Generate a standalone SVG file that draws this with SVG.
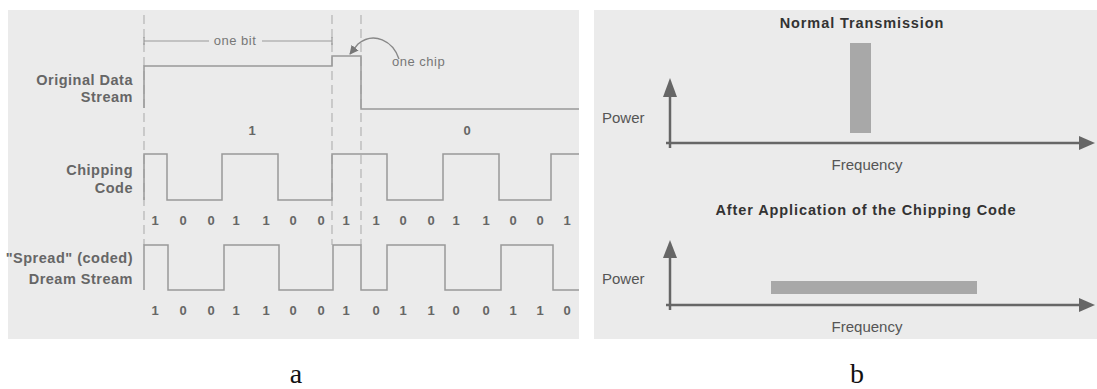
<svg xmlns="http://www.w3.org/2000/svg" width="1097" height="389" viewBox="0 0 1097 389">
  <style>
    .panel { fill: #ebebeb; }
    .wave { fill: none; stroke: #999; stroke-width: 1.5; }
    .guide { fill: none; stroke: #b4b4b4; stroke-width: 1.2; stroke-dasharray: 9 5; }
    .thin { fill: none; stroke: #999; stroke-width: 1.2; }
    .curve { fill: none; stroke: #888; stroke-width: 1.4; }
    .lbl { font-family: "Liberation Sans", Arial, sans-serif; font-weight: bold; font-size: 14.5px; fill: #666; letter-spacing: 0.5px; }
    .num { font-family: "Liberation Sans", Arial, sans-serif; font-weight: bold; font-size: 13px; fill: #666; text-anchor: middle; }
    .note { font-family: "Liberation Sans", Arial, sans-serif; font-size: 13px; fill: #777; letter-spacing: 0.5px; }
    .axis { fill: none; stroke: #666; stroke-width: 2.5; }
    .head { fill: #666; }
    .title { font-family: "Liberation Sans", Arial, sans-serif; font-weight: bold; font-size: 14.5px; fill: #333; text-anchor: middle; letter-spacing: 0.9px; }
    .axlbl { font-family: "Liberation Sans", Arial, sans-serif; font-size: 15px; fill: #555; }
    .bar { fill: #a8a8a8; }
    .cap { font-family: "Liberation Serif", "Times New Roman", serif; font-size: 28px; fill: #111; text-anchor: middle; }
  </style>
  <defs>
    <marker id="chipHead" viewBox="0 0 10 10" refX="9" refY="5" markerWidth="9" markerHeight="9" orient="auto" markerUnits="userSpaceOnUse">
      <path d="M0,0 L10,5 L0,10 z" fill="#777"/>
    </marker>
  </defs>

  <rect width="1097" height="389" fill="#fff"/>

  <!-- Panel a: direct-sequence spreading waveforms -->
  <g id="panel-a">
    <rect class="panel" x="8" y="10" width="571" height="329"/>

    <g id="guides">
      <line class="guide" x1="144" y1="15" x2="144" y2="245"/>
      <line class="guide" x1="332" y1="15" x2="332" y2="245"/>
      <line class="guide" x1="361" y1="15" x2="361" y2="245"/>
    </g>

    <g id="bit-span">
      <line class="thin" x1="144" y1="41" x2="209" y2="41"/>
      <line class="thin" x1="262" y1="41" x2="332" y2="41"/>
      <line class="thin" x1="144" y1="37" x2="144" y2="45"/>
      <line class="thin" x1="332" y1="37" x2="332" y2="45"/>
      <text class="note" x="235" y="45" text-anchor="middle">one bit</text>
    </g>

    <g id="chip-callout">
      <path class="curve" d="M399,59 C393,41 374,31 358,44 L350,54" marker-end="url(#chipHead)"/>
      <text class="note" x="392" y="66">one chip</text>
    </g>

    <g id="data-stream">
      <text class="lbl" x="133" y="85" text-anchor="end">Original Data</text>
      <text class="lbl" x="133" y="102" text-anchor="end">Stream</text>
      <path class="wave" d="M144,108 V66 H332 V56 H361 V109 H579"/>
      <text class="num" x="252" y="135">1</text>
      <text class="num" x="467" y="135">0</text>
    </g>

    <g id="chipping-code">
      <text class="lbl" x="133" y="175" text-anchor="end">Chipping</text>
      <text class="lbl" x="133" y="193" text-anchor="end">Code</text>
      <path class="wave" d="M144,200 V154 H167 V200 H222 V154 H278 V200 H332 V154 H387 V200 H443 V154 H499 V200 H551 V154 H579"/>
      <text class="num" y="225">
        <tspan x="155">1</tspan><tspan x="183">0</tspan><tspan x="211">0</tspan><tspan x="238">1</tspan>
        <tspan x="266">1</tspan><tspan x="293">0</tspan><tspan x="321">0</tspan><tspan x="348">1</tspan>
        <tspan x="376">1</tspan><tspan x="403">0</tspan><tspan x="431">0</tspan><tspan x="458">1</tspan>
        <tspan x="486">1</tspan><tspan x="513">0</tspan><tspan x="540">0</tspan><tspan x="567">1</tspan>
      </text>
    </g>

    <g id="spread-stream">
      <text class="lbl" x="133" y="263" text-anchor="end">"Spread" (coded)</text>
      <text class="lbl" x="133" y="284" text-anchor="end">Dream Stream</text>
      <path class="wave" d="M144,290 V245 H168 V290 H224 V245 H279 V290 H333 V245 H361 V290 H387 V245 H445 V290 H501 V245 H553 V290 H579"/>
      <text class="num" y="315">
        <tspan x="155">1</tspan><tspan x="183">0</tspan><tspan x="211">0</tspan><tspan x="238">1</tspan>
        <tspan x="266">1</tspan><tspan x="293">0</tspan><tspan x="321">0</tspan><tspan x="348">1</tspan>
        <tspan x="376">0</tspan><tspan x="403">1</tspan><tspan x="431">1</tspan><tspan x="458">0</tspan>
        <tspan x="486">0</tspan><tspan x="513">1</tspan><tspan x="540">1</tspan><tspan x="567">0</tspan>
      </text>
    </g>
  </g>

  <!-- Panel b: power spectra -->
  <g id="panel-b">
    <rect class="panel" x="594" y="10" width="503" height="329"/>

    <g id="spectrum-normal">
      <text class="title" x="862" y="28">Normal Transmission</text>
      <rect class="bar" x="850" y="43" width="21" height="90"/>
      <line class="axis" x1="670" y1="148" x2="670" y2="94"/>
      <polygon class="head" points="670,78 677,97 663,97"/>
      <line class="axis" x1="666" y1="143" x2="1082" y2="143"/>
      <polygon class="head" points="1095,143 1079,136 1079,150"/>
      <text class="axlbl" x="602" y="123">Power</text>
      <text class="axlbl" x="867" y="170" text-anchor="middle">Frequency</text>
    </g>

    <g id="spectrum-spread">
      <text class="title" x="866" y="215">After Application of the Chipping Code</text>
      <rect class="bar" x="771" y="281" width="206" height="13"/>
      <line class="axis" x1="670" y1="310" x2="670" y2="255"/>
      <polygon class="head" points="670,240 677,258 663,258"/>
      <line class="axis" x1="666" y1="305" x2="1082" y2="305"/>
      <polygon class="head" points="1095,305 1079,298 1079,312"/>
      <text class="axlbl" x="602" y="284">Power</text>
      <text class="axlbl" x="867" y="332" text-anchor="middle">Frequency</text>
    </g>
  </g>

  <g id="captions">
    <text class="cap" x="296" y="383">a</text>
    <text class="cap" x="857" y="383">b</text>
  </g>
</svg>
